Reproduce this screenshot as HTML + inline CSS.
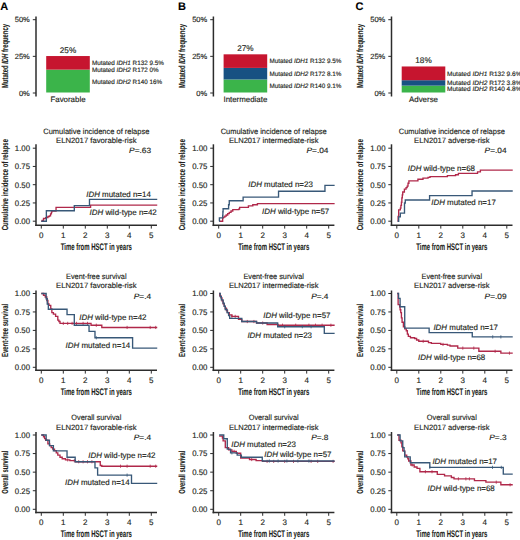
<!DOCTYPE html>
<html><head><meta charset="utf-8"><style>
html,body{margin:0;padding:0;background:#fff;overflow:hidden;}
svg{display:block;font-family:"Liberation Sans", sans-serif;text-rendering:geometricPrecision;}
</style></head><body>
<svg width="520" height="540" viewBox="0 0 520 540">
<rect width="520" height="540" fill="#fff"/>
<text x="0.20" y="9.60" font-size="11" text-anchor="start" font-weight="bold" font-style="normal" fill="#000" stroke="#000" stroke-width="0.1" >A</text>
<text x="178.00" y="9.70" font-size="11" text-anchor="start" font-weight="bold" font-style="normal" fill="#000" stroke="#000" stroke-width="0.1" >B</text>
<text x="355.60" y="9.70" font-size="11" text-anchor="start" font-weight="bold" font-style="normal" fill="#000" stroke="#000" stroke-width="0.1" >C</text>
<line x1="36.00" y1="16.50" x2="36.00" y2="96.50" stroke="#2c2c2c" stroke-width="1.5"/>
<line x1="32.80" y1="19.70" x2="36.00" y2="19.70" stroke="#2c2c2c" stroke-width="1.0"/>
<text x="29.80" y="22.40" font-size="7.5" text-anchor="end" font-weight="normal" font-style="normal" fill="#231f20" stroke="#231f20" stroke-width="0.15" >50%</text>
<line x1="32.80" y1="56.35" x2="36.00" y2="56.35" stroke="#2c2c2c" stroke-width="1.0"/>
<text x="29.80" y="59.05" font-size="7.5" text-anchor="end" font-weight="normal" font-style="normal" fill="#231f20" stroke="#231f20" stroke-width="0.15" >25%</text>
<line x1="32.80" y1="93.00" x2="36.00" y2="93.00" stroke="#2c2c2c" stroke-width="1.0"/>
<text x="29.80" y="95.70" font-size="7.5" text-anchor="end" font-weight="normal" font-style="normal" fill="#231f20" stroke="#231f20" stroke-width="0.15" >0%</text>
<text transform="translate(7.60,56.00) rotate(-90)" x="0" y="0" font-size="8.9" font-weight="bold" text-anchor="middle" fill="#231f20" stroke="#231f20" stroke-width="0.1" textLength="64.00" lengthAdjust="spacingAndGlyphs">Mutated <tspan font-style="italic">IDH</tspan> frequency</text>
<rect x="46.20" y="69.62" width="43.60" height="22.88" fill="#3bb44a"/>
<rect x="46.20" y="56.04" width="43.60" height="13.58" fill="#c6152f"/>
<text x="68.00" y="52.84" font-size="8.2" text-anchor="middle" font-weight="normal" font-style="normal" fill="#231f20" stroke="#231f20" stroke-width="0.15" >25%</text>
<text x="68.00" y="102.00" font-size="7.9" text-anchor="middle" font-weight="normal" font-style="normal" fill="#231f20" stroke="#231f20" stroke-width="0.15" >Favorable</text>
<text x="92.00" y="64.70" font-size="6.3" text-anchor="start" font-weight="normal" font-style="normal" fill="#231f20" stroke="#231f20" stroke-width="0.15" >Mutated <tspan font-style="italic">IDH1</tspan> R132 9.5%</text>
<text x="92.00" y="72.30" font-size="6.3" text-anchor="start" font-weight="normal" font-style="normal" fill="#231f20" stroke="#231f20" stroke-width="0.15" >Mutated <tspan font-style="italic">IDH2</tspan> R172 0%</text>
<text x="92.00" y="83.80" font-size="6.3" text-anchor="start" font-weight="normal" font-style="normal" fill="#231f20" stroke="#231f20" stroke-width="0.15" >Mutated <tspan font-style="italic">IDH2</tspan> R140 16%</text>
<line x1="213.40" y1="16.50" x2="213.40" y2="96.50" stroke="#2c2c2c" stroke-width="1.5"/>
<line x1="210.20" y1="19.70" x2="213.40" y2="19.70" stroke="#2c2c2c" stroke-width="1.0"/>
<text x="207.20" y="22.40" font-size="7.5" text-anchor="end" font-weight="normal" font-style="normal" fill="#231f20" stroke="#231f20" stroke-width="0.15" >50%</text>
<line x1="210.20" y1="56.35" x2="213.40" y2="56.35" stroke="#2c2c2c" stroke-width="1.0"/>
<text x="207.20" y="59.05" font-size="7.5" text-anchor="end" font-weight="normal" font-style="normal" fill="#231f20" stroke="#231f20" stroke-width="0.15" >25%</text>
<line x1="210.20" y1="93.00" x2="213.40" y2="93.00" stroke="#2c2c2c" stroke-width="1.0"/>
<text x="207.20" y="95.70" font-size="7.5" text-anchor="end" font-weight="normal" font-style="normal" fill="#231f20" stroke="#231f20" stroke-width="0.15" >0%</text>
<text transform="translate(185.00,56.00) rotate(-90)" x="0" y="0" font-size="8.9" font-weight="bold" text-anchor="middle" fill="#231f20" stroke="#231f20" stroke-width="0.1" textLength="64.00" lengthAdjust="spacingAndGlyphs">Mutated <tspan font-style="italic">IDH</tspan> frequency</text>
<rect x="223.60" y="79.49" width="43.60" height="13.01" fill="#3bb44a"/>
<rect x="223.60" y="67.90" width="43.60" height="11.58" fill="#175182"/>
<rect x="223.60" y="54.32" width="43.60" height="13.58" fill="#c6152f"/>
<text x="245.40" y="51.12" font-size="8.2" text-anchor="middle" font-weight="normal" font-style="normal" fill="#231f20" stroke="#231f20" stroke-width="0.15" >27%</text>
<text x="245.40" y="102.00" font-size="7.9" text-anchor="middle" font-weight="normal" font-style="normal" fill="#231f20" stroke="#231f20" stroke-width="0.15" >Intermediate</text>
<text x="269.50" y="62.70" font-size="6.3" text-anchor="start" font-weight="normal" font-style="normal" fill="#231f20" stroke="#231f20" stroke-width="0.15" >Mutated <tspan font-style="italic">IDH1</tspan> R132 9.5%</text>
<text x="269.50" y="75.90" font-size="6.3" text-anchor="start" font-weight="normal" font-style="normal" fill="#231f20" stroke="#231f20" stroke-width="0.15" >Mutated <tspan font-style="italic">IDH2</tspan> R172 8.1%</text>
<text x="269.50" y="88.10" font-size="6.3" text-anchor="start" font-weight="normal" font-style="normal" fill="#231f20" stroke="#231f20" stroke-width="0.15" >Mutated <tspan font-style="italic">IDH2</tspan> R140 9.1%</text>
<line x1="391.50" y1="16.50" x2="391.50" y2="96.50" stroke="#2c2c2c" stroke-width="1.5"/>
<line x1="388.30" y1="19.70" x2="391.50" y2="19.70" stroke="#2c2c2c" stroke-width="1.0"/>
<text x="385.30" y="22.40" font-size="7.5" text-anchor="end" font-weight="normal" font-style="normal" fill="#231f20" stroke="#231f20" stroke-width="0.15" >50%</text>
<line x1="388.30" y1="56.35" x2="391.50" y2="56.35" stroke="#2c2c2c" stroke-width="1.0"/>
<text x="385.30" y="59.05" font-size="7.5" text-anchor="end" font-weight="normal" font-style="normal" fill="#231f20" stroke="#231f20" stroke-width="0.15" >25%</text>
<line x1="388.30" y1="93.00" x2="391.50" y2="93.00" stroke="#2c2c2c" stroke-width="1.0"/>
<text x="385.30" y="95.70" font-size="7.5" text-anchor="end" font-weight="normal" font-style="normal" fill="#231f20" stroke="#231f20" stroke-width="0.15" >0%</text>
<text transform="translate(363.10,56.00) rotate(-90)" x="0" y="0" font-size="8.9" font-weight="bold" text-anchor="middle" fill="#231f20" stroke="#231f20" stroke-width="0.1" textLength="64.00" lengthAdjust="spacingAndGlyphs">Mutated <tspan font-style="italic">IDH</tspan> frequency</text>
<rect x="401.70" y="85.64" width="43.60" height="6.86" fill="#3bb44a"/>
<rect x="401.70" y="80.20" width="43.60" height="5.43" fill="#175182"/>
<rect x="401.70" y="66.47" width="43.60" height="13.73" fill="#c6152f"/>
<text x="423.50" y="63.27" font-size="8.2" text-anchor="middle" font-weight="normal" font-style="normal" fill="#231f20" stroke="#231f20" stroke-width="0.15" >18%</text>
<text x="423.50" y="102.00" font-size="7.9" text-anchor="middle" font-weight="normal" font-style="normal" fill="#231f20" stroke="#231f20" stroke-width="0.15" >Adverse</text>
<text x="447.00" y="75.70" font-size="6.3" text-anchor="start" font-weight="normal" font-style="normal" fill="#231f20" stroke="#231f20" stroke-width="0.15" textLength="74.50" lengthAdjust="spacingAndGlyphs" >Mutated <tspan font-style="italic">IDH1</tspan> R132 9.6%</text>
<text x="447.00" y="85.20" font-size="6.3" text-anchor="start" font-weight="normal" font-style="normal" fill="#231f20" stroke="#231f20" stroke-width="0.15" textLength="74.50" lengthAdjust="spacingAndGlyphs" >Mutated <tspan font-style="italic">IDH2</tspan> R172 3.8%</text>
<text x="447.00" y="90.70" font-size="6.3" text-anchor="start" font-weight="normal" font-style="normal" fill="#231f20" stroke="#231f20" stroke-width="0.15" textLength="74.50" lengthAdjust="spacingAndGlyphs" >Mutated <tspan font-style="italic">IDH2</tspan> R140 4.8%</text>
<line x1="36.00" y1="144.30" x2="36.00" y2="226.05" stroke="#2c2c2c" stroke-width="1.5"/>
<line x1="32.80" y1="148.20" x2="36.00" y2="148.20" stroke="#2c2c2c" stroke-width="1.0"/>
<text x="30.00" y="151.10" font-size="8.0" text-anchor="end" font-weight="normal" font-style="normal" fill="#231f20" stroke="#231f20" stroke-width="0.15" textLength="15.20" lengthAdjust="spacingAndGlyphs" >1.00</text>
<line x1="32.80" y1="166.45" x2="36.00" y2="166.45" stroke="#2c2c2c" stroke-width="1.0"/>
<text x="30.00" y="169.35" font-size="8.0" text-anchor="end" font-weight="normal" font-style="normal" fill="#231f20" stroke="#231f20" stroke-width="0.15" textLength="15.20" lengthAdjust="spacingAndGlyphs" >0.75</text>
<line x1="32.80" y1="184.70" x2="36.00" y2="184.70" stroke="#2c2c2c" stroke-width="1.0"/>
<text x="30.00" y="187.60" font-size="8.0" text-anchor="end" font-weight="normal" font-style="normal" fill="#231f20" stroke="#231f20" stroke-width="0.15" textLength="15.20" lengthAdjust="spacingAndGlyphs" >0.50</text>
<line x1="32.80" y1="202.95" x2="36.00" y2="202.95" stroke="#2c2c2c" stroke-width="1.0"/>
<text x="30.00" y="205.85" font-size="8.0" text-anchor="end" font-weight="normal" font-style="normal" fill="#231f20" stroke="#231f20" stroke-width="0.15" textLength="15.20" lengthAdjust="spacingAndGlyphs" >0.25</text>
<line x1="32.80" y1="221.20" x2="36.00" y2="221.20" stroke="#2c2c2c" stroke-width="1.0"/>
<text x="30.00" y="224.10" font-size="8.0" text-anchor="end" font-weight="normal" font-style="normal" fill="#231f20" stroke="#231f20" stroke-width="0.15" textLength="15.20" lengthAdjust="spacingAndGlyphs" >0.00</text>
<line x1="35.20" y1="225.30" x2="157.00" y2="225.30" stroke="#2c2c2c" stroke-width="1.5"/>
<line x1="41.30" y1="225.30" x2="41.30" y2="228.60" stroke="#2c2c2c" stroke-width="1.0"/>
<text x="41.30" y="237.70" font-size="8.0" text-anchor="middle" font-weight="normal" font-style="normal" fill="#231f20" stroke="#231f20" stroke-width="0.15" >0</text>
<line x1="63.30" y1="225.30" x2="63.30" y2="228.60" stroke="#2c2c2c" stroke-width="1.0"/>
<text x="63.30" y="237.70" font-size="8.0" text-anchor="middle" font-weight="normal" font-style="normal" fill="#231f20" stroke="#231f20" stroke-width="0.15" >1</text>
<line x1="85.30" y1="225.30" x2="85.30" y2="228.60" stroke="#2c2c2c" stroke-width="1.0"/>
<text x="85.30" y="237.70" font-size="8.0" text-anchor="middle" font-weight="normal" font-style="normal" fill="#231f20" stroke="#231f20" stroke-width="0.15" >2</text>
<line x1="107.30" y1="225.30" x2="107.30" y2="228.60" stroke="#2c2c2c" stroke-width="1.0"/>
<text x="107.30" y="237.70" font-size="8.0" text-anchor="middle" font-weight="normal" font-style="normal" fill="#231f20" stroke="#231f20" stroke-width="0.15" >3</text>
<line x1="129.30" y1="225.30" x2="129.30" y2="228.60" stroke="#2c2c2c" stroke-width="1.0"/>
<text x="129.30" y="237.70" font-size="8.0" text-anchor="middle" font-weight="normal" font-style="normal" fill="#231f20" stroke="#231f20" stroke-width="0.15" >4</text>
<line x1="151.30" y1="225.30" x2="151.30" y2="228.60" stroke="#2c2c2c" stroke-width="1.0"/>
<text x="151.30" y="237.70" font-size="8.0" text-anchor="middle" font-weight="normal" font-style="normal" fill="#231f20" stroke="#231f20" stroke-width="0.15" >5</text>
<text x="96.30" y="249.70" font-size="9.6" text-anchor="middle" font-weight="bold" font-style="normal" fill="#231f20" stroke="#231f20" stroke-width="0.1" textLength="71.10" lengthAdjust="spacingAndGlyphs" >Time from HSCT in years</text>
<text transform="translate(7.60,184.70) rotate(-90)" x="0" y="0" font-size="8.9" font-weight="bold" text-anchor="middle" fill="#231f20" stroke="#231f20" stroke-width="0.1" textLength="91.30" lengthAdjust="spacingAndGlyphs">Cumulative incidence of relapse</text>
<text x="96.30" y="133.60" font-size="7.7" text-anchor="middle" font-weight="normal" font-style="normal" fill="#231f20" stroke="#231f20" stroke-width="0.15" textLength="106.10" lengthAdjust="spacingAndGlyphs" >Cumulative incidence of relapse</text>
<text x="96.30" y="142.70" font-size="7.7" text-anchor="middle" font-weight="normal" font-style="normal" fill="#231f20" stroke="#231f20" stroke-width="0.15" textLength="80.40" lengthAdjust="spacingAndGlyphs" >ELN2017 favorable-risk</text>
<text x="151.10" y="153.20" font-size="7.7" text-anchor="end" font-weight="normal" font-style="normal" fill="#231f20" stroke="#231f20" stroke-width="0.15" textLength="21.96" lengthAdjust="spacingAndGlyphs" ><tspan font-style="italic">P</tspan>=.63</text>
<path d="M41.30,221.20H42.18V220.32H43.50V218.50H45.70V217.55H47.90V216.53H49.44V215.80H50.54V213.90H51.42V212.07H51.86V211.13H56.04V207.33H90.58V205.14H157.24" fill="none" stroke="#b0284a" stroke-width="1.35"/>
<path d="M41.30,221.20H46.36V210.76H74.30V205.58H89.48V199.30H157.24" fill="none" stroke="#385878" stroke-width="1.35"/>
<text x="86.20" y="197.05" font-size="7.95" text-anchor="start" font-weight="normal" font-style="normal" fill="#231f20" stroke="#231f20" stroke-width="0.15" ><tspan font-style="italic">IDH</tspan> mutated n=14</text>
<text x="89.50" y="215.25" font-size="7.95" text-anchor="start" font-weight="normal" font-style="normal" fill="#231f20" stroke="#231f20" stroke-width="0.15" ><tspan font-style="italic">IDH</tspan> wild-type n=42</text>
<line x1="213.40" y1="144.30" x2="213.40" y2="226.05" stroke="#2c2c2c" stroke-width="1.5"/>
<line x1="210.20" y1="148.20" x2="213.40" y2="148.20" stroke="#2c2c2c" stroke-width="1.0"/>
<text x="207.40" y="151.10" font-size="8.0" text-anchor="end" font-weight="normal" font-style="normal" fill="#231f20" stroke="#231f20" stroke-width="0.15" textLength="15.20" lengthAdjust="spacingAndGlyphs" >1.00</text>
<line x1="210.20" y1="166.45" x2="213.40" y2="166.45" stroke="#2c2c2c" stroke-width="1.0"/>
<text x="207.40" y="169.35" font-size="8.0" text-anchor="end" font-weight="normal" font-style="normal" fill="#231f20" stroke="#231f20" stroke-width="0.15" textLength="15.20" lengthAdjust="spacingAndGlyphs" >0.75</text>
<line x1="210.20" y1="184.70" x2="213.40" y2="184.70" stroke="#2c2c2c" stroke-width="1.0"/>
<text x="207.40" y="187.60" font-size="8.0" text-anchor="end" font-weight="normal" font-style="normal" fill="#231f20" stroke="#231f20" stroke-width="0.15" textLength="15.20" lengthAdjust="spacingAndGlyphs" >0.50</text>
<line x1="210.20" y1="202.95" x2="213.40" y2="202.95" stroke="#2c2c2c" stroke-width="1.0"/>
<text x="207.40" y="205.85" font-size="8.0" text-anchor="end" font-weight="normal" font-style="normal" fill="#231f20" stroke="#231f20" stroke-width="0.15" textLength="15.20" lengthAdjust="spacingAndGlyphs" >0.25</text>
<line x1="210.20" y1="221.20" x2="213.40" y2="221.20" stroke="#2c2c2c" stroke-width="1.0"/>
<text x="207.40" y="224.10" font-size="8.0" text-anchor="end" font-weight="normal" font-style="normal" fill="#231f20" stroke="#231f20" stroke-width="0.15" textLength="15.20" lengthAdjust="spacingAndGlyphs" >0.00</text>
<line x1="212.60" y1="225.30" x2="334.40" y2="225.30" stroke="#2c2c2c" stroke-width="1.5"/>
<line x1="218.70" y1="225.30" x2="218.70" y2="228.60" stroke="#2c2c2c" stroke-width="1.0"/>
<text x="218.70" y="237.70" font-size="8.0" text-anchor="middle" font-weight="normal" font-style="normal" fill="#231f20" stroke="#231f20" stroke-width="0.15" >0</text>
<line x1="240.70" y1="225.30" x2="240.70" y2="228.60" stroke="#2c2c2c" stroke-width="1.0"/>
<text x="240.70" y="237.70" font-size="8.0" text-anchor="middle" font-weight="normal" font-style="normal" fill="#231f20" stroke="#231f20" stroke-width="0.15" >1</text>
<line x1="262.70" y1="225.30" x2="262.70" y2="228.60" stroke="#2c2c2c" stroke-width="1.0"/>
<text x="262.70" y="237.70" font-size="8.0" text-anchor="middle" font-weight="normal" font-style="normal" fill="#231f20" stroke="#231f20" stroke-width="0.15" >2</text>
<line x1="284.70" y1="225.30" x2="284.70" y2="228.60" stroke="#2c2c2c" stroke-width="1.0"/>
<text x="284.70" y="237.70" font-size="8.0" text-anchor="middle" font-weight="normal" font-style="normal" fill="#231f20" stroke="#231f20" stroke-width="0.15" >3</text>
<line x1="306.70" y1="225.30" x2="306.70" y2="228.60" stroke="#2c2c2c" stroke-width="1.0"/>
<text x="306.70" y="237.70" font-size="8.0" text-anchor="middle" font-weight="normal" font-style="normal" fill="#231f20" stroke="#231f20" stroke-width="0.15" >4</text>
<line x1="328.70" y1="225.30" x2="328.70" y2="228.60" stroke="#2c2c2c" stroke-width="1.0"/>
<text x="328.70" y="237.70" font-size="8.0" text-anchor="middle" font-weight="normal" font-style="normal" fill="#231f20" stroke="#231f20" stroke-width="0.15" >5</text>
<text x="273.70" y="249.70" font-size="9.6" text-anchor="middle" font-weight="bold" font-style="normal" fill="#231f20" stroke="#231f20" stroke-width="0.1" textLength="71.10" lengthAdjust="spacingAndGlyphs" >Time from HSCT in years</text>
<text transform="translate(185.00,184.70) rotate(-90)" x="0" y="0" font-size="8.9" font-weight="bold" text-anchor="middle" fill="#231f20" stroke="#231f20" stroke-width="0.1" textLength="91.30" lengthAdjust="spacingAndGlyphs">Cumulative incidence of relapse</text>
<text x="273.70" y="133.60" font-size="7.7" text-anchor="middle" font-weight="normal" font-style="normal" fill="#231f20" stroke="#231f20" stroke-width="0.15" textLength="106.10" lengthAdjust="spacingAndGlyphs" >Cumulative incidence of relapse</text>
<text x="273.70" y="142.70" font-size="7.7" text-anchor="middle" font-weight="normal" font-style="normal" fill="#231f20" stroke="#231f20" stroke-width="0.15" textLength="89.50" lengthAdjust="spacingAndGlyphs" >ELN2017 intermediate-risk</text>
<text x="328.50" y="153.20" font-size="7.7" text-anchor="end" font-weight="normal" font-style="normal" fill="#231f20" stroke="#231f20" stroke-width="0.15" textLength="21.96" lengthAdjust="spacingAndGlyphs" ><tspan font-style="italic">P</tspan>=.04</text>
<path d="M219.36,221.20H222.66V217.91H223.54V217.19H224.86V216.09H226.18V214.99H227.72V213.61H229.26V212.44H231.02V210.98H232.78V209.67H238.72V209.08H239.60V207.33H248.40V205.87H252.80V204.77H257.42V203.68H334.64" fill="none" stroke="#b0284a" stroke-width="1.35"/>
<path d="M219.36,221.20H219.40V217.91H222.66V215.36H222.88V211.71H223.10V208.79H228.60V204.70H229.26V200.76H243.12V197.11H278.54V191.27H324.96V185.43H334.64" fill="none" stroke="#385878" stroke-width="1.35"/>
<text x="248.20" y="186.85" font-size="7.95" text-anchor="start" font-weight="normal" font-style="normal" fill="#231f20" stroke="#231f20" stroke-width="0.15" ><tspan font-style="italic">IDH</tspan> mutated n=23</text>
<text x="262.00" y="214.35" font-size="7.95" text-anchor="start" font-weight="normal" font-style="normal" fill="#231f20" stroke="#231f20" stroke-width="0.15" ><tspan font-style="italic">IDH</tspan> wild-type n=57</text>
<line x1="391.50" y1="144.30" x2="391.50" y2="226.05" stroke="#2c2c2c" stroke-width="1.5"/>
<line x1="388.30" y1="148.20" x2="391.50" y2="148.20" stroke="#2c2c2c" stroke-width="1.0"/>
<text x="385.50" y="151.10" font-size="8.0" text-anchor="end" font-weight="normal" font-style="normal" fill="#231f20" stroke="#231f20" stroke-width="0.15" textLength="15.20" lengthAdjust="spacingAndGlyphs" >1.00</text>
<line x1="388.30" y1="166.45" x2="391.50" y2="166.45" stroke="#2c2c2c" stroke-width="1.0"/>
<text x="385.50" y="169.35" font-size="8.0" text-anchor="end" font-weight="normal" font-style="normal" fill="#231f20" stroke="#231f20" stroke-width="0.15" textLength="15.20" lengthAdjust="spacingAndGlyphs" >0.75</text>
<line x1="388.30" y1="184.70" x2="391.50" y2="184.70" stroke="#2c2c2c" stroke-width="1.0"/>
<text x="385.50" y="187.60" font-size="8.0" text-anchor="end" font-weight="normal" font-style="normal" fill="#231f20" stroke="#231f20" stroke-width="0.15" textLength="15.20" lengthAdjust="spacingAndGlyphs" >0.50</text>
<line x1="388.30" y1="202.95" x2="391.50" y2="202.95" stroke="#2c2c2c" stroke-width="1.0"/>
<text x="385.50" y="205.85" font-size="8.0" text-anchor="end" font-weight="normal" font-style="normal" fill="#231f20" stroke="#231f20" stroke-width="0.15" textLength="15.20" lengthAdjust="spacingAndGlyphs" >0.25</text>
<line x1="388.30" y1="221.20" x2="391.50" y2="221.20" stroke="#2c2c2c" stroke-width="1.0"/>
<text x="385.50" y="224.10" font-size="8.0" text-anchor="end" font-weight="normal" font-style="normal" fill="#231f20" stroke="#231f20" stroke-width="0.15" textLength="15.20" lengthAdjust="spacingAndGlyphs" >0.00</text>
<line x1="390.70" y1="225.30" x2="512.50" y2="225.30" stroke="#2c2c2c" stroke-width="1.5"/>
<line x1="396.80" y1="225.30" x2="396.80" y2="228.60" stroke="#2c2c2c" stroke-width="1.0"/>
<text x="396.80" y="237.70" font-size="8.0" text-anchor="middle" font-weight="normal" font-style="normal" fill="#231f20" stroke="#231f20" stroke-width="0.15" >0</text>
<line x1="418.80" y1="225.30" x2="418.80" y2="228.60" stroke="#2c2c2c" stroke-width="1.0"/>
<text x="418.80" y="237.70" font-size="8.0" text-anchor="middle" font-weight="normal" font-style="normal" fill="#231f20" stroke="#231f20" stroke-width="0.15" >1</text>
<line x1="440.80" y1="225.30" x2="440.80" y2="228.60" stroke="#2c2c2c" stroke-width="1.0"/>
<text x="440.80" y="237.70" font-size="8.0" text-anchor="middle" font-weight="normal" font-style="normal" fill="#231f20" stroke="#231f20" stroke-width="0.15" >2</text>
<line x1="462.80" y1="225.30" x2="462.80" y2="228.60" stroke="#2c2c2c" stroke-width="1.0"/>
<text x="462.80" y="237.70" font-size="8.0" text-anchor="middle" font-weight="normal" font-style="normal" fill="#231f20" stroke="#231f20" stroke-width="0.15" >3</text>
<line x1="484.80" y1="225.30" x2="484.80" y2="228.60" stroke="#2c2c2c" stroke-width="1.0"/>
<text x="484.80" y="237.70" font-size="8.0" text-anchor="middle" font-weight="normal" font-style="normal" fill="#231f20" stroke="#231f20" stroke-width="0.15" >4</text>
<line x1="506.80" y1="225.30" x2="506.80" y2="228.60" stroke="#2c2c2c" stroke-width="1.0"/>
<text x="506.80" y="237.70" font-size="8.0" text-anchor="middle" font-weight="normal" font-style="normal" fill="#231f20" stroke="#231f20" stroke-width="0.15" >5</text>
<text x="451.80" y="249.70" font-size="9.6" text-anchor="middle" font-weight="bold" font-style="normal" fill="#231f20" stroke="#231f20" stroke-width="0.1" textLength="71.10" lengthAdjust="spacingAndGlyphs" >Time from HSCT in years</text>
<text transform="translate(363.10,184.70) rotate(-90)" x="0" y="0" font-size="8.9" font-weight="bold" text-anchor="middle" fill="#231f20" stroke="#231f20" stroke-width="0.1" textLength="91.30" lengthAdjust="spacingAndGlyphs">Cumulative incidence of relapse</text>
<text x="451.80" y="133.60" font-size="7.7" text-anchor="middle" font-weight="normal" font-style="normal" fill="#231f20" stroke="#231f20" stroke-width="0.15" textLength="106.10" lengthAdjust="spacingAndGlyphs" >Cumulative incidence of relapse</text>
<text x="451.80" y="142.70" font-size="7.7" text-anchor="middle" font-weight="normal" font-style="normal" fill="#231f20" stroke="#231f20" stroke-width="0.15" textLength="75.40" lengthAdjust="spacingAndGlyphs" >ELN2017 adverse-risk</text>
<text x="506.60" y="153.20" font-size="7.7" text-anchor="end" font-weight="normal" font-style="normal" fill="#231f20" stroke="#231f20" stroke-width="0.15" textLength="21.96" lengthAdjust="spacingAndGlyphs" ><tspan font-style="italic">P</tspan>=.04</text>
<path d="M397.68,221.20H398.12V216.38H398.69V209.88H400.32V208.06H400.89V205.36H401.42V202.22H401.86V197.84H402.30V194.92H402.74V192.00H404.39V189.08H406.04V187.62H407.14V186.16H408.02V183.24H408.90V180.83H417.92V179.22H422.98V178.13H428.04V177.40H430.02V176.67H447.40V175.57H455.54V174.70H458.40V173.38H477.54V171.92H480.40V170.10H512.74" fill="none" stroke="#b0284a" stroke-width="1.35"/>
<path d="M397.68,221.20H398.69V216.82H400.32V213.17H404.50V202.95H405.29V200.03H429.58V195.65H472.04V190.98H512.74" fill="none" stroke="#385878" stroke-width="1.35"/>
<text x="407.70" y="171.35" font-size="7.95" text-anchor="start" font-weight="normal" font-style="normal" fill="#231f20" stroke="#231f20" stroke-width="0.15" ><tspan font-style="italic">IDH</tspan> wild-type n=68</text>
<text x="431.20" y="204.85" font-size="7.95" text-anchor="start" font-weight="normal" font-style="normal" fill="#231f20" stroke="#231f20" stroke-width="0.15" ><tspan font-style="italic">IDH</tspan> mutated n=17</text>
<line x1="36.00" y1="290.50" x2="36.00" y2="371.05" stroke="#2c2c2c" stroke-width="1.5"/>
<line x1="32.80" y1="293.50" x2="36.00" y2="293.50" stroke="#2c2c2c" stroke-width="1.0"/>
<text x="30.00" y="296.40" font-size="8.0" text-anchor="end" font-weight="normal" font-style="normal" fill="#231f20" stroke="#231f20" stroke-width="0.15" textLength="15.20" lengthAdjust="spacingAndGlyphs" >1.00</text>
<line x1="32.80" y1="311.95" x2="36.00" y2="311.95" stroke="#2c2c2c" stroke-width="1.0"/>
<text x="30.00" y="314.85" font-size="8.0" text-anchor="end" font-weight="normal" font-style="normal" fill="#231f20" stroke="#231f20" stroke-width="0.15" textLength="15.20" lengthAdjust="spacingAndGlyphs" >0.75</text>
<line x1="32.80" y1="330.40" x2="36.00" y2="330.40" stroke="#2c2c2c" stroke-width="1.0"/>
<text x="30.00" y="333.30" font-size="8.0" text-anchor="end" font-weight="normal" font-style="normal" fill="#231f20" stroke="#231f20" stroke-width="0.15" textLength="15.20" lengthAdjust="spacingAndGlyphs" >0.50</text>
<line x1="32.80" y1="348.85" x2="36.00" y2="348.85" stroke="#2c2c2c" stroke-width="1.0"/>
<text x="30.00" y="351.75" font-size="8.0" text-anchor="end" font-weight="normal" font-style="normal" fill="#231f20" stroke="#231f20" stroke-width="0.15" textLength="15.20" lengthAdjust="spacingAndGlyphs" >0.25</text>
<line x1="32.80" y1="367.30" x2="36.00" y2="367.30" stroke="#2c2c2c" stroke-width="1.0"/>
<text x="30.00" y="370.20" font-size="8.0" text-anchor="end" font-weight="normal" font-style="normal" fill="#231f20" stroke="#231f20" stroke-width="0.15" textLength="15.20" lengthAdjust="spacingAndGlyphs" >0.00</text>
<line x1="35.20" y1="370.30" x2="157.00" y2="370.30" stroke="#2c2c2c" stroke-width="1.5"/>
<line x1="41.30" y1="370.30" x2="41.30" y2="373.60" stroke="#2c2c2c" stroke-width="1.0"/>
<text x="41.30" y="382.50" font-size="8.0" text-anchor="middle" font-weight="normal" font-style="normal" fill="#231f20" stroke="#231f20" stroke-width="0.15" >0</text>
<line x1="63.30" y1="370.30" x2="63.30" y2="373.60" stroke="#2c2c2c" stroke-width="1.0"/>
<text x="63.30" y="382.50" font-size="8.0" text-anchor="middle" font-weight="normal" font-style="normal" fill="#231f20" stroke="#231f20" stroke-width="0.15" >1</text>
<line x1="85.30" y1="370.30" x2="85.30" y2="373.60" stroke="#2c2c2c" stroke-width="1.0"/>
<text x="85.30" y="382.50" font-size="8.0" text-anchor="middle" font-weight="normal" font-style="normal" fill="#231f20" stroke="#231f20" stroke-width="0.15" >2</text>
<line x1="107.30" y1="370.30" x2="107.30" y2="373.60" stroke="#2c2c2c" stroke-width="1.0"/>
<text x="107.30" y="382.50" font-size="8.0" text-anchor="middle" font-weight="normal" font-style="normal" fill="#231f20" stroke="#231f20" stroke-width="0.15" >3</text>
<line x1="129.30" y1="370.30" x2="129.30" y2="373.60" stroke="#2c2c2c" stroke-width="1.0"/>
<text x="129.30" y="382.50" font-size="8.0" text-anchor="middle" font-weight="normal" font-style="normal" fill="#231f20" stroke="#231f20" stroke-width="0.15" >4</text>
<line x1="151.30" y1="370.30" x2="151.30" y2="373.60" stroke="#2c2c2c" stroke-width="1.0"/>
<text x="151.30" y="382.50" font-size="8.0" text-anchor="middle" font-weight="normal" font-style="normal" fill="#231f20" stroke="#231f20" stroke-width="0.15" >5</text>
<text x="96.30" y="394.60" font-size="9.6" text-anchor="middle" font-weight="bold" font-style="normal" fill="#231f20" stroke="#231f20" stroke-width="0.1" textLength="71.10" lengthAdjust="spacingAndGlyphs" >Time from HSCT in years</text>
<text transform="translate(7.60,330.40) rotate(-90)" x="0" y="0" font-size="8.9" font-weight="bold" text-anchor="middle" fill="#231f20" stroke="#231f20" stroke-width="0.1" textLength="53.30" lengthAdjust="spacingAndGlyphs">Event-free survival</text>
<text x="96.30" y="279.00" font-size="7.7" text-anchor="middle" font-weight="normal" font-style="normal" fill="#231f20" stroke="#231f20" stroke-width="0.15" textLength="60.50" lengthAdjust="spacingAndGlyphs" >Event-free survival</text>
<text x="96.30" y="287.80" font-size="7.7" text-anchor="middle" font-weight="normal" font-style="normal" fill="#231f20" stroke="#231f20" stroke-width="0.15" textLength="80.40" lengthAdjust="spacingAndGlyphs" >ELN2017 favorable-risk</text>
<text x="151.10" y="299.00" font-size="7.7" text-anchor="end" font-weight="normal" font-style="normal" fill="#231f20" stroke="#231f20" stroke-width="0.15" textLength="17.33" lengthAdjust="spacingAndGlyphs" ><tspan font-style="italic">P</tspan>=.4</text>
<path d="M41.30,293.50H43.50V295.27H45.26V297.04H46.80V300.51H47.90V303.83H49.00V305.31H50.76V309.00H51.86V312.69H53.40V314.16H55.60V316.38H57.80V320.07H58.90V321.54H60.00V323.39H91.02V325.23H101.80V327.45H157.24" fill="none" stroke="#b0284a" stroke-width="1.35"/>
<line x1="63.30" y1="321.79" x2="63.30" y2="324.99" stroke="#b0284a" stroke-width="0.8"/>
<line x1="67.70" y1="321.79" x2="67.70" y2="324.99" stroke="#b0284a" stroke-width="0.8"/>
<line x1="72.10" y1="321.79" x2="72.10" y2="324.99" stroke="#b0284a" stroke-width="0.8"/>
<line x1="74.30" y1="321.79" x2="74.30" y2="324.99" stroke="#b0284a" stroke-width="0.8"/>
<line x1="76.50" y1="321.79" x2="76.50" y2="324.99" stroke="#b0284a" stroke-width="0.8"/>
<line x1="83.10" y1="321.79" x2="83.10" y2="324.99" stroke="#b0284a" stroke-width="0.8"/>
<line x1="87.50" y1="321.79" x2="87.50" y2="324.99" stroke="#b0284a" stroke-width="0.8"/>
<line x1="96.30" y1="323.63" x2="96.30" y2="326.83" stroke="#b0284a" stroke-width="0.8"/>
<line x1="127.10" y1="325.85" x2="127.10" y2="329.05" stroke="#b0284a" stroke-width="0.8"/>
<line x1="150.20" y1="325.85" x2="150.20" y2="329.05" stroke="#b0284a" stroke-width="0.8"/>
<line x1="155.70" y1="325.85" x2="155.70" y2="329.05" stroke="#b0284a" stroke-width="0.8"/>
<path d="M41.30,293.50H46.14V298.74H47.24V304.05H48.34V309.29H67.04V314.61H74.30V325.23H89.04V331.43H94.98V337.78H132.60V348.11H157.24" fill="none" stroke="#385878" stroke-width="1.35"/>
<line x1="96.30" y1="336.18" x2="96.30" y2="339.38" stroke="#385878" stroke-width="0.8"/>
<text x="79.20" y="320.05" font-size="7.95" text-anchor="start" font-weight="normal" font-style="normal" fill="#231f20" stroke="#231f20" stroke-width="0.15" ><tspan font-style="italic">IDH</tspan> wild-type n=42</text>
<text x="65.60" y="347.65" font-size="7.95" text-anchor="start" font-weight="normal" font-style="normal" fill="#231f20" stroke="#231f20" stroke-width="0.15" ><tspan font-style="italic">IDH</tspan> mutated n=14</text>
<line x1="213.40" y1="290.50" x2="213.40" y2="371.05" stroke="#2c2c2c" stroke-width="1.5"/>
<line x1="210.20" y1="293.50" x2="213.40" y2="293.50" stroke="#2c2c2c" stroke-width="1.0"/>
<text x="207.40" y="296.40" font-size="8.0" text-anchor="end" font-weight="normal" font-style="normal" fill="#231f20" stroke="#231f20" stroke-width="0.15" textLength="15.20" lengthAdjust="spacingAndGlyphs" >1.00</text>
<line x1="210.20" y1="311.95" x2="213.40" y2="311.95" stroke="#2c2c2c" stroke-width="1.0"/>
<text x="207.40" y="314.85" font-size="8.0" text-anchor="end" font-weight="normal" font-style="normal" fill="#231f20" stroke="#231f20" stroke-width="0.15" textLength="15.20" lengthAdjust="spacingAndGlyphs" >0.75</text>
<line x1="210.20" y1="330.40" x2="213.40" y2="330.40" stroke="#2c2c2c" stroke-width="1.0"/>
<text x="207.40" y="333.30" font-size="8.0" text-anchor="end" font-weight="normal" font-style="normal" fill="#231f20" stroke="#231f20" stroke-width="0.15" textLength="15.20" lengthAdjust="spacingAndGlyphs" >0.50</text>
<line x1="210.20" y1="348.85" x2="213.40" y2="348.85" stroke="#2c2c2c" stroke-width="1.0"/>
<text x="207.40" y="351.75" font-size="8.0" text-anchor="end" font-weight="normal" font-style="normal" fill="#231f20" stroke="#231f20" stroke-width="0.15" textLength="15.20" lengthAdjust="spacingAndGlyphs" >0.25</text>
<line x1="210.20" y1="367.30" x2="213.40" y2="367.30" stroke="#2c2c2c" stroke-width="1.0"/>
<text x="207.40" y="370.20" font-size="8.0" text-anchor="end" font-weight="normal" font-style="normal" fill="#231f20" stroke="#231f20" stroke-width="0.15" textLength="15.20" lengthAdjust="spacingAndGlyphs" >0.00</text>
<line x1="212.60" y1="370.30" x2="334.40" y2="370.30" stroke="#2c2c2c" stroke-width="1.5"/>
<line x1="218.70" y1="370.30" x2="218.70" y2="373.60" stroke="#2c2c2c" stroke-width="1.0"/>
<text x="218.70" y="382.50" font-size="8.0" text-anchor="middle" font-weight="normal" font-style="normal" fill="#231f20" stroke="#231f20" stroke-width="0.15" >0</text>
<line x1="240.70" y1="370.30" x2="240.70" y2="373.60" stroke="#2c2c2c" stroke-width="1.0"/>
<text x="240.70" y="382.50" font-size="8.0" text-anchor="middle" font-weight="normal" font-style="normal" fill="#231f20" stroke="#231f20" stroke-width="0.15" >1</text>
<line x1="262.70" y1="370.30" x2="262.70" y2="373.60" stroke="#2c2c2c" stroke-width="1.0"/>
<text x="262.70" y="382.50" font-size="8.0" text-anchor="middle" font-weight="normal" font-style="normal" fill="#231f20" stroke="#231f20" stroke-width="0.15" >2</text>
<line x1="284.70" y1="370.30" x2="284.70" y2="373.60" stroke="#2c2c2c" stroke-width="1.0"/>
<text x="284.70" y="382.50" font-size="8.0" text-anchor="middle" font-weight="normal" font-style="normal" fill="#231f20" stroke="#231f20" stroke-width="0.15" >3</text>
<line x1="306.70" y1="370.30" x2="306.70" y2="373.60" stroke="#2c2c2c" stroke-width="1.0"/>
<text x="306.70" y="382.50" font-size="8.0" text-anchor="middle" font-weight="normal" font-style="normal" fill="#231f20" stroke="#231f20" stroke-width="0.15" >4</text>
<line x1="328.70" y1="370.30" x2="328.70" y2="373.60" stroke="#2c2c2c" stroke-width="1.0"/>
<text x="328.70" y="382.50" font-size="8.0" text-anchor="middle" font-weight="normal" font-style="normal" fill="#231f20" stroke="#231f20" stroke-width="0.15" >5</text>
<text x="273.70" y="394.60" font-size="9.6" text-anchor="middle" font-weight="bold" font-style="normal" fill="#231f20" stroke="#231f20" stroke-width="0.1" textLength="71.10" lengthAdjust="spacingAndGlyphs" >Time from HSCT in years</text>
<text transform="translate(185.00,330.40) rotate(-90)" x="0" y="0" font-size="8.9" font-weight="bold" text-anchor="middle" fill="#231f20" stroke="#231f20" stroke-width="0.1" textLength="53.30" lengthAdjust="spacingAndGlyphs">Event-free survival</text>
<text x="273.70" y="279.00" font-size="7.7" text-anchor="middle" font-weight="normal" font-style="normal" fill="#231f20" stroke="#231f20" stroke-width="0.15" textLength="60.50" lengthAdjust="spacingAndGlyphs" >Event-free survival</text>
<text x="273.70" y="287.80" font-size="7.7" text-anchor="middle" font-weight="normal" font-style="normal" fill="#231f20" stroke="#231f20" stroke-width="0.15" textLength="89.50" lengthAdjust="spacingAndGlyphs" >ELN2017 intermediate-risk</text>
<text x="328.50" y="299.00" font-size="7.7" text-anchor="end" font-weight="normal" font-style="normal" fill="#231f20" stroke="#231f20" stroke-width="0.15" textLength="17.33" lengthAdjust="spacingAndGlyphs" ><tspan font-style="italic">P</tspan>=.4</text>
<path d="M219.14,293.50H219.80V295.71H220.90V297.93H222.00V300.88H223.10V303.83H224.20V306.05H225.30V308.26H226.40V310.47H227.50V312.69H229.26V314.90H231.90V316.38H238.50V319.33H241.80V321.54H256.54V323.02H267.10V324.50H278.10V325.23H334.64" fill="none" stroke="#b0284a" stroke-width="1.35"/>
<line x1="225.30" y1="306.66" x2="225.30" y2="309.86" stroke="#b0284a" stroke-width="0.8"/>
<line x1="231.90" y1="314.78" x2="231.90" y2="317.98" stroke="#b0284a" stroke-width="0.8"/>
<line x1="235.20" y1="314.78" x2="235.20" y2="317.98" stroke="#b0284a" stroke-width="0.8"/>
<line x1="247.30" y1="319.94" x2="247.30" y2="323.14" stroke="#b0284a" stroke-width="0.8"/>
<line x1="253.90" y1="319.94" x2="253.90" y2="323.14" stroke="#b0284a" stroke-width="0.8"/>
<line x1="262.70" y1="321.42" x2="262.70" y2="324.62" stroke="#b0284a" stroke-width="0.8"/>
<line x1="282.50" y1="323.63" x2="282.50" y2="326.83" stroke="#b0284a" stroke-width="0.8"/>
<line x1="295.70" y1="323.63" x2="295.70" y2="326.83" stroke="#b0284a" stroke-width="0.8"/>
<line x1="308.90" y1="323.63" x2="308.90" y2="326.83" stroke="#b0284a" stroke-width="0.8"/>
<line x1="315.50" y1="323.63" x2="315.50" y2="326.83" stroke="#b0284a" stroke-width="0.8"/>
<line x1="322.10" y1="323.63" x2="322.10" y2="326.83" stroke="#b0284a" stroke-width="0.8"/>
<line x1="330.90" y1="323.63" x2="330.90" y2="326.83" stroke="#b0284a" stroke-width="0.8"/>
<path d="M219.14,293.50H220.24V296.67H221.34V299.92H223.10V303.09H224.20V306.34H225.30V309.51H227.06V312.69H228.60V315.64H229.70V318.30H241.80V321.54H256.54V323.02H277.66V326.71H324.30V333.35H334.64" fill="none" stroke="#385878" stroke-width="1.35"/>
<line x1="284.70" y1="325.11" x2="284.70" y2="328.31" stroke="#385878" stroke-width="0.8"/>
<line x1="302.30" y1="325.11" x2="302.30" y2="328.31" stroke="#385878" stroke-width="0.8"/>
<line x1="311.10" y1="325.11" x2="311.10" y2="328.31" stroke="#385878" stroke-width="0.8"/>
<text x="263.20" y="318.35" font-size="7.95" text-anchor="start" font-weight="normal" font-style="normal" fill="#231f20" stroke="#231f20" stroke-width="0.15" ><tspan font-style="italic">IDH</tspan> wild-type n=57</text>
<text x="247.40" y="337.55" font-size="7.95" text-anchor="start" font-weight="normal" font-style="normal" fill="#231f20" stroke="#231f20" stroke-width="0.15" ><tspan font-style="italic">IDH</tspan> mutated n=23</text>
<line x1="391.50" y1="290.50" x2="391.50" y2="371.05" stroke="#2c2c2c" stroke-width="1.5"/>
<line x1="388.30" y1="293.50" x2="391.50" y2="293.50" stroke="#2c2c2c" stroke-width="1.0"/>
<text x="385.50" y="296.40" font-size="8.0" text-anchor="end" font-weight="normal" font-style="normal" fill="#231f20" stroke="#231f20" stroke-width="0.15" textLength="15.20" lengthAdjust="spacingAndGlyphs" >1.00</text>
<line x1="388.30" y1="311.95" x2="391.50" y2="311.95" stroke="#2c2c2c" stroke-width="1.0"/>
<text x="385.50" y="314.85" font-size="8.0" text-anchor="end" font-weight="normal" font-style="normal" fill="#231f20" stroke="#231f20" stroke-width="0.15" textLength="15.20" lengthAdjust="spacingAndGlyphs" >0.75</text>
<line x1="388.30" y1="330.40" x2="391.50" y2="330.40" stroke="#2c2c2c" stroke-width="1.0"/>
<text x="385.50" y="333.30" font-size="8.0" text-anchor="end" font-weight="normal" font-style="normal" fill="#231f20" stroke="#231f20" stroke-width="0.15" textLength="15.20" lengthAdjust="spacingAndGlyphs" >0.50</text>
<line x1="388.30" y1="348.85" x2="391.50" y2="348.85" stroke="#2c2c2c" stroke-width="1.0"/>
<text x="385.50" y="351.75" font-size="8.0" text-anchor="end" font-weight="normal" font-style="normal" fill="#231f20" stroke="#231f20" stroke-width="0.15" textLength="15.20" lengthAdjust="spacingAndGlyphs" >0.25</text>
<line x1="388.30" y1="367.30" x2="391.50" y2="367.30" stroke="#2c2c2c" stroke-width="1.0"/>
<text x="385.50" y="370.20" font-size="8.0" text-anchor="end" font-weight="normal" font-style="normal" fill="#231f20" stroke="#231f20" stroke-width="0.15" textLength="15.20" lengthAdjust="spacingAndGlyphs" >0.00</text>
<line x1="390.70" y1="370.30" x2="512.50" y2="370.30" stroke="#2c2c2c" stroke-width="1.5"/>
<line x1="396.80" y1="370.30" x2="396.80" y2="373.60" stroke="#2c2c2c" stroke-width="1.0"/>
<text x="396.80" y="382.50" font-size="8.0" text-anchor="middle" font-weight="normal" font-style="normal" fill="#231f20" stroke="#231f20" stroke-width="0.15" >0</text>
<line x1="418.80" y1="370.30" x2="418.80" y2="373.60" stroke="#2c2c2c" stroke-width="1.0"/>
<text x="418.80" y="382.50" font-size="8.0" text-anchor="middle" font-weight="normal" font-style="normal" fill="#231f20" stroke="#231f20" stroke-width="0.15" >1</text>
<line x1="440.80" y1="370.30" x2="440.80" y2="373.60" stroke="#2c2c2c" stroke-width="1.0"/>
<text x="440.80" y="382.50" font-size="8.0" text-anchor="middle" font-weight="normal" font-style="normal" fill="#231f20" stroke="#231f20" stroke-width="0.15" >2</text>
<line x1="462.80" y1="370.30" x2="462.80" y2="373.60" stroke="#2c2c2c" stroke-width="1.0"/>
<text x="462.80" y="382.50" font-size="8.0" text-anchor="middle" font-weight="normal" font-style="normal" fill="#231f20" stroke="#231f20" stroke-width="0.15" >3</text>
<line x1="484.80" y1="370.30" x2="484.80" y2="373.60" stroke="#2c2c2c" stroke-width="1.0"/>
<text x="484.80" y="382.50" font-size="8.0" text-anchor="middle" font-weight="normal" font-style="normal" fill="#231f20" stroke="#231f20" stroke-width="0.15" >4</text>
<line x1="506.80" y1="370.30" x2="506.80" y2="373.60" stroke="#2c2c2c" stroke-width="1.0"/>
<text x="506.80" y="382.50" font-size="8.0" text-anchor="middle" font-weight="normal" font-style="normal" fill="#231f20" stroke="#231f20" stroke-width="0.15" >5</text>
<text x="451.80" y="394.60" font-size="9.6" text-anchor="middle" font-weight="bold" font-style="normal" fill="#231f20" stroke="#231f20" stroke-width="0.1" textLength="71.10" lengthAdjust="spacingAndGlyphs" >Time from HSCT in years</text>
<text transform="translate(363.10,330.40) rotate(-90)" x="0" y="0" font-size="8.9" font-weight="bold" text-anchor="middle" fill="#231f20" stroke="#231f20" stroke-width="0.1" textLength="53.30" lengthAdjust="spacingAndGlyphs">Event-free survival</text>
<text x="451.80" y="279.00" font-size="7.7" text-anchor="middle" font-weight="normal" font-style="normal" fill="#231f20" stroke="#231f20" stroke-width="0.15" textLength="60.50" lengthAdjust="spacingAndGlyphs" >Event-free survival</text>
<text x="451.80" y="287.80" font-size="7.7" text-anchor="middle" font-weight="normal" font-style="normal" fill="#231f20" stroke="#231f20" stroke-width="0.15" textLength="75.40" lengthAdjust="spacingAndGlyphs" >ELN2017 adverse-risk</text>
<text x="506.60" y="299.00" font-size="7.7" text-anchor="end" font-weight="normal" font-style="normal" fill="#231f20" stroke="#231f20" stroke-width="0.15" textLength="21.96" lengthAdjust="spacingAndGlyphs" ><tspan font-style="italic">P</tspan>=.09</text>
<path d="M397.24,293.50H398.12V304.57H399.66V306.78H400.10V309.74H400.76V312.69H401.42V317.85H402.08V322.28H403.40V326.71H404.72V328.92H406.26V330.77H407.36V334.09H408.35V336.30H410.44V337.78H414.62V338.52H416.60V339.99H418.80V341.25H428.48V342.58H431.34V343.31H440.80V344.42H447.40V345.16H450.04V345.97H457.74V348.11H478.86V351.29H500.86V353.13H512.74" fill="none" stroke="#b0284a" stroke-width="1.35"/>
<line x1="423.20" y1="339.65" x2="423.20" y2="342.85" stroke="#b0284a" stroke-width="0.8"/>
<line x1="443.00" y1="342.82" x2="443.00" y2="346.02" stroke="#b0284a" stroke-width="0.8"/>
<line x1="462.80" y1="346.51" x2="462.80" y2="349.71" stroke="#b0284a" stroke-width="0.8"/>
<line x1="473.80" y1="346.51" x2="473.80" y2="349.71" stroke="#b0284a" stroke-width="0.8"/>
<line x1="495.14" y1="349.69" x2="495.14" y2="352.89" stroke="#b0284a" stroke-width="0.8"/>
<line x1="509.44" y1="351.53" x2="509.44" y2="354.73" stroke="#b0284a" stroke-width="0.8"/>
<path d="M397.24,293.50H398.56V298.30H400.10V306.78H404.72V328.19H429.14V332.61H472.26V336.89H512.74" fill="none" stroke="#385878" stroke-width="1.35"/>
<line x1="492.72" y1="335.29" x2="492.72" y2="338.49" stroke="#385878" stroke-width="0.8"/>
<line x1="500.86" y1="335.29" x2="500.86" y2="338.49" stroke="#385878" stroke-width="0.8"/>
<text x="433.40" y="329.85" font-size="7.95" text-anchor="start" font-weight="normal" font-style="normal" fill="#231f20" stroke="#231f20" stroke-width="0.15" ><tspan font-style="italic">IDH</tspan> mutated n=17</text>
<text x="418.00" y="360.25" font-size="7.95" text-anchor="start" font-weight="normal" font-style="normal" fill="#231f20" stroke="#231f20" stroke-width="0.15" ><tspan font-style="italic">IDH</tspan> wild-type n=68</text>
<line x1="36.00" y1="432.00" x2="36.00" y2="513.25" stroke="#2c2c2c" stroke-width="1.5"/>
<line x1="32.80" y1="435.00" x2="36.00" y2="435.00" stroke="#2c2c2c" stroke-width="1.0"/>
<text x="30.00" y="437.90" font-size="8.0" text-anchor="end" font-weight="normal" font-style="normal" fill="#231f20" stroke="#231f20" stroke-width="0.15" textLength="15.20" lengthAdjust="spacingAndGlyphs" >1.00</text>
<line x1="32.80" y1="453.57" x2="36.00" y2="453.57" stroke="#2c2c2c" stroke-width="1.0"/>
<text x="30.00" y="456.47" font-size="8.0" text-anchor="end" font-weight="normal" font-style="normal" fill="#231f20" stroke="#231f20" stroke-width="0.15" textLength="15.20" lengthAdjust="spacingAndGlyphs" >0.75</text>
<line x1="32.80" y1="472.15" x2="36.00" y2="472.15" stroke="#2c2c2c" stroke-width="1.0"/>
<text x="30.00" y="475.05" font-size="8.0" text-anchor="end" font-weight="normal" font-style="normal" fill="#231f20" stroke="#231f20" stroke-width="0.15" textLength="15.20" lengthAdjust="spacingAndGlyphs" >0.50</text>
<line x1="32.80" y1="490.73" x2="36.00" y2="490.73" stroke="#2c2c2c" stroke-width="1.0"/>
<text x="30.00" y="493.62" font-size="8.0" text-anchor="end" font-weight="normal" font-style="normal" fill="#231f20" stroke="#231f20" stroke-width="0.15" textLength="15.20" lengthAdjust="spacingAndGlyphs" >0.25</text>
<line x1="32.80" y1="509.30" x2="36.00" y2="509.30" stroke="#2c2c2c" stroke-width="1.0"/>
<text x="30.00" y="512.20" font-size="8.0" text-anchor="end" font-weight="normal" font-style="normal" fill="#231f20" stroke="#231f20" stroke-width="0.15" textLength="15.20" lengthAdjust="spacingAndGlyphs" >0.00</text>
<line x1="35.20" y1="512.50" x2="157.00" y2="512.50" stroke="#2c2c2c" stroke-width="1.5"/>
<line x1="41.30" y1="512.50" x2="41.30" y2="515.80" stroke="#2c2c2c" stroke-width="1.0"/>
<text x="41.30" y="524.50" font-size="8.0" text-anchor="middle" font-weight="normal" font-style="normal" fill="#231f20" stroke="#231f20" stroke-width="0.15" >0</text>
<line x1="63.30" y1="512.50" x2="63.30" y2="515.80" stroke="#2c2c2c" stroke-width="1.0"/>
<text x="63.30" y="524.50" font-size="8.0" text-anchor="middle" font-weight="normal" font-style="normal" fill="#231f20" stroke="#231f20" stroke-width="0.15" >1</text>
<line x1="85.30" y1="512.50" x2="85.30" y2="515.80" stroke="#2c2c2c" stroke-width="1.0"/>
<text x="85.30" y="524.50" font-size="8.0" text-anchor="middle" font-weight="normal" font-style="normal" fill="#231f20" stroke="#231f20" stroke-width="0.15" >2</text>
<line x1="107.30" y1="512.50" x2="107.30" y2="515.80" stroke="#2c2c2c" stroke-width="1.0"/>
<text x="107.30" y="524.50" font-size="8.0" text-anchor="middle" font-weight="normal" font-style="normal" fill="#231f20" stroke="#231f20" stroke-width="0.15" >3</text>
<line x1="129.30" y1="512.50" x2="129.30" y2="515.80" stroke="#2c2c2c" stroke-width="1.0"/>
<text x="129.30" y="524.50" font-size="8.0" text-anchor="middle" font-weight="normal" font-style="normal" fill="#231f20" stroke="#231f20" stroke-width="0.15" >4</text>
<line x1="151.30" y1="512.50" x2="151.30" y2="515.80" stroke="#2c2c2c" stroke-width="1.0"/>
<text x="151.30" y="524.50" font-size="8.0" text-anchor="middle" font-weight="normal" font-style="normal" fill="#231f20" stroke="#231f20" stroke-width="0.15" >5</text>
<text x="96.30" y="537.10" font-size="9.6" text-anchor="middle" font-weight="bold" font-style="normal" fill="#231f20" stroke="#231f20" stroke-width="0.1" textLength="71.10" lengthAdjust="spacingAndGlyphs" >Time from HSCT in years</text>
<text transform="translate(7.60,472.15) rotate(-90)" x="0" y="0" font-size="8.9" font-weight="bold" text-anchor="middle" fill="#231f20" stroke="#231f20" stroke-width="0.1" textLength="43.10" lengthAdjust="spacingAndGlyphs">Overall survival</text>
<text x="96.30" y="420.30" font-size="7.7" text-anchor="middle" font-weight="normal" font-style="normal" fill="#231f20" stroke="#231f20" stroke-width="0.15" textLength="50.00" lengthAdjust="spacingAndGlyphs" >Overall survival</text>
<text x="96.30" y="429.50" font-size="7.7" text-anchor="middle" font-weight="normal" font-style="normal" fill="#231f20" stroke="#231f20" stroke-width="0.15" textLength="80.40" lengthAdjust="spacingAndGlyphs" >ELN2017 favorable-risk</text>
<text x="151.10" y="440.00" font-size="7.7" text-anchor="end" font-weight="normal" font-style="normal" fill="#231f20" stroke="#231f20" stroke-width="0.15" textLength="17.33" lengthAdjust="spacingAndGlyphs" ><tspan font-style="italic">P</tspan>=.4</text>
<path d="M41.30,435.00H43.50V436.78H44.60V438.57H45.70V440.20H47.90V443.92H49.66V445.62H51.20V447.63H52.74V449.12H54.50V450.60H56.26V452.83H57.80V455.06H60.00V457.29H62.20V458.78H65.50V459.89H69.90V460.63H75.40V461.75H100.26V465.46H101.80V466.21H157.24" fill="none" stroke="#b0284a" stroke-width="1.35"/>
<line x1="67.70" y1="458.29" x2="67.70" y2="461.49" stroke="#b0284a" stroke-width="0.8"/>
<line x1="74.30" y1="459.03" x2="74.30" y2="462.23" stroke="#b0284a" stroke-width="0.8"/>
<line x1="78.70" y1="460.15" x2="78.70" y2="463.35" stroke="#b0284a" stroke-width="0.8"/>
<line x1="83.10" y1="460.15" x2="83.10" y2="463.35" stroke="#b0284a" stroke-width="0.8"/>
<line x1="87.50" y1="460.15" x2="87.50" y2="463.35" stroke="#b0284a" stroke-width="0.8"/>
<line x1="91.90" y1="460.15" x2="91.90" y2="463.35" stroke="#b0284a" stroke-width="0.8"/>
<line x1="120.50" y1="464.61" x2="120.50" y2="467.81" stroke="#b0284a" stroke-width="0.8"/>
<line x1="127.10" y1="464.61" x2="127.10" y2="467.81" stroke="#b0284a" stroke-width="0.8"/>
<line x1="150.20" y1="464.61" x2="150.20" y2="467.81" stroke="#b0284a" stroke-width="0.8"/>
<line x1="155.70" y1="464.61" x2="155.70" y2="467.81" stroke="#b0284a" stroke-width="0.8"/>
<path d="M41.30,435.00H46.14V440.28H49.44V445.62H53.40V450.90H67.04V457.29H75.18V461.75H94.98V467.91H97.62V475.12H131.50V483.30H157.24" fill="none" stroke="#385878" stroke-width="1.35"/>
<line x1="127.10" y1="473.52" x2="127.10" y2="476.72" stroke="#385878" stroke-width="0.8"/>
<text x="88.20" y="458.35" font-size="7.95" text-anchor="start" font-weight="normal" font-style="normal" fill="#231f20" stroke="#231f20" stroke-width="0.15" ><tspan font-style="italic">IDH</tspan> wild-type n=42</text>
<text x="65.00" y="484.65" font-size="7.95" text-anchor="start" font-weight="normal" font-style="normal" fill="#231f20" stroke="#231f20" stroke-width="0.15" ><tspan font-style="italic">IDH</tspan> mutated n=14</text>
<line x1="213.40" y1="432.00" x2="213.40" y2="513.25" stroke="#2c2c2c" stroke-width="1.5"/>
<line x1="210.20" y1="435.00" x2="213.40" y2="435.00" stroke="#2c2c2c" stroke-width="1.0"/>
<text x="207.40" y="437.90" font-size="8.0" text-anchor="end" font-weight="normal" font-style="normal" fill="#231f20" stroke="#231f20" stroke-width="0.15" textLength="15.20" lengthAdjust="spacingAndGlyphs" >1.00</text>
<line x1="210.20" y1="453.57" x2="213.40" y2="453.57" stroke="#2c2c2c" stroke-width="1.0"/>
<text x="207.40" y="456.47" font-size="8.0" text-anchor="end" font-weight="normal" font-style="normal" fill="#231f20" stroke="#231f20" stroke-width="0.15" textLength="15.20" lengthAdjust="spacingAndGlyphs" >0.75</text>
<line x1="210.20" y1="472.15" x2="213.40" y2="472.15" stroke="#2c2c2c" stroke-width="1.0"/>
<text x="207.40" y="475.05" font-size="8.0" text-anchor="end" font-weight="normal" font-style="normal" fill="#231f20" stroke="#231f20" stroke-width="0.15" textLength="15.20" lengthAdjust="spacingAndGlyphs" >0.50</text>
<line x1="210.20" y1="490.73" x2="213.40" y2="490.73" stroke="#2c2c2c" stroke-width="1.0"/>
<text x="207.40" y="493.62" font-size="8.0" text-anchor="end" font-weight="normal" font-style="normal" fill="#231f20" stroke="#231f20" stroke-width="0.15" textLength="15.20" lengthAdjust="spacingAndGlyphs" >0.25</text>
<line x1="210.20" y1="509.30" x2="213.40" y2="509.30" stroke="#2c2c2c" stroke-width="1.0"/>
<text x="207.40" y="512.20" font-size="8.0" text-anchor="end" font-weight="normal" font-style="normal" fill="#231f20" stroke="#231f20" stroke-width="0.15" textLength="15.20" lengthAdjust="spacingAndGlyphs" >0.00</text>
<line x1="212.60" y1="512.50" x2="334.40" y2="512.50" stroke="#2c2c2c" stroke-width="1.5"/>
<line x1="218.70" y1="512.50" x2="218.70" y2="515.80" stroke="#2c2c2c" stroke-width="1.0"/>
<text x="218.70" y="524.50" font-size="8.0" text-anchor="middle" font-weight="normal" font-style="normal" fill="#231f20" stroke="#231f20" stroke-width="0.15" >0</text>
<line x1="240.70" y1="512.50" x2="240.70" y2="515.80" stroke="#2c2c2c" stroke-width="1.0"/>
<text x="240.70" y="524.50" font-size="8.0" text-anchor="middle" font-weight="normal" font-style="normal" fill="#231f20" stroke="#231f20" stroke-width="0.15" >1</text>
<line x1="262.70" y1="512.50" x2="262.70" y2="515.80" stroke="#2c2c2c" stroke-width="1.0"/>
<text x="262.70" y="524.50" font-size="8.0" text-anchor="middle" font-weight="normal" font-style="normal" fill="#231f20" stroke="#231f20" stroke-width="0.15" >2</text>
<line x1="284.70" y1="512.50" x2="284.70" y2="515.80" stroke="#2c2c2c" stroke-width="1.0"/>
<text x="284.70" y="524.50" font-size="8.0" text-anchor="middle" font-weight="normal" font-style="normal" fill="#231f20" stroke="#231f20" stroke-width="0.15" >3</text>
<line x1="306.70" y1="512.50" x2="306.70" y2="515.80" stroke="#2c2c2c" stroke-width="1.0"/>
<text x="306.70" y="524.50" font-size="8.0" text-anchor="middle" font-weight="normal" font-style="normal" fill="#231f20" stroke="#231f20" stroke-width="0.15" >4</text>
<line x1="328.70" y1="512.50" x2="328.70" y2="515.80" stroke="#2c2c2c" stroke-width="1.0"/>
<text x="328.70" y="524.50" font-size="8.0" text-anchor="middle" font-weight="normal" font-style="normal" fill="#231f20" stroke="#231f20" stroke-width="0.15" >5</text>
<text x="273.70" y="537.10" font-size="9.6" text-anchor="middle" font-weight="bold" font-style="normal" fill="#231f20" stroke="#231f20" stroke-width="0.1" textLength="71.10" lengthAdjust="spacingAndGlyphs" >Time from HSCT in years</text>
<text transform="translate(185.00,472.15) rotate(-90)" x="0" y="0" font-size="8.9" font-weight="bold" text-anchor="middle" fill="#231f20" stroke="#231f20" stroke-width="0.1" textLength="43.10" lengthAdjust="spacingAndGlyphs">Overall survival</text>
<text x="273.70" y="420.30" font-size="7.7" text-anchor="middle" font-weight="normal" font-style="normal" fill="#231f20" stroke="#231f20" stroke-width="0.15" textLength="50.00" lengthAdjust="spacingAndGlyphs" >Overall survival</text>
<text x="273.70" y="429.50" font-size="7.7" text-anchor="middle" font-weight="normal" font-style="normal" fill="#231f20" stroke="#231f20" stroke-width="0.15" textLength="89.50" lengthAdjust="spacingAndGlyphs" >ELN2017 intermediate-risk</text>
<text x="328.50" y="440.00" font-size="7.7" text-anchor="end" font-weight="normal" font-style="normal" fill="#231f20" stroke="#231f20" stroke-width="0.15" textLength="17.33" lengthAdjust="spacingAndGlyphs" ><tspan font-style="italic">P</tspan>=.8</text>
<path d="M219.14,436.11H222.44V437.97H223.10V440.94H225.30V447.63H228.60V449.86H231.90V451.35H236.30V453.20H240.70V458.03H249.50V459.52H256.10V460.63H262.70V461.38H334.64" fill="none" stroke="#b0284a" stroke-width="1.35"/>
<line x1="234.10" y1="449.75" x2="234.10" y2="452.95" stroke="#b0284a" stroke-width="0.8"/>
<line x1="251.70" y1="457.92" x2="251.70" y2="461.12" stroke="#b0284a" stroke-width="0.8"/>
<line x1="267.10" y1="459.78" x2="267.10" y2="462.98" stroke="#b0284a" stroke-width="0.8"/>
<line x1="273.70" y1="459.78" x2="273.70" y2="462.98" stroke="#b0284a" stroke-width="0.8"/>
<line x1="284.70" y1="459.78" x2="284.70" y2="462.98" stroke="#b0284a" stroke-width="0.8"/>
<line x1="293.50" y1="459.78" x2="293.50" y2="462.98" stroke="#b0284a" stroke-width="0.8"/>
<line x1="311.10" y1="459.78" x2="311.10" y2="462.98" stroke="#b0284a" stroke-width="0.8"/>
<line x1="317.70" y1="459.78" x2="317.70" y2="462.98" stroke="#b0284a" stroke-width="0.8"/>
<line x1="333.10" y1="459.78" x2="333.10" y2="462.98" stroke="#b0284a" stroke-width="0.8"/>
<path d="M219.14,435.00H223.76V438.72H227.28V449.12H230.58V452.83H237.18V455.06H241.36V457.29H262.26V461.00H334.64" fill="none" stroke="#385878" stroke-width="1.35"/>
<line x1="231.90" y1="451.23" x2="231.90" y2="454.43" stroke="#385878" stroke-width="0.8"/>
<line x1="269.30" y1="459.40" x2="269.30" y2="462.61" stroke="#385878" stroke-width="0.8"/>
<line x1="278.10" y1="459.40" x2="278.10" y2="462.61" stroke="#385878" stroke-width="0.8"/>
<line x1="286.90" y1="459.40" x2="286.90" y2="462.61" stroke="#385878" stroke-width="0.8"/>
<line x1="297.90" y1="459.40" x2="297.90" y2="462.61" stroke="#385878" stroke-width="0.8"/>
<line x1="308.90" y1="459.40" x2="308.90" y2="462.61" stroke="#385878" stroke-width="0.8"/>
<text x="231.20" y="446.65" font-size="7.95" text-anchor="start" font-weight="normal" font-style="normal" fill="#231f20" stroke="#231f20" stroke-width="0.15" ><tspan font-style="italic">IDH</tspan> mutated n=23</text>
<text x="264.20" y="457.35" font-size="7.95" text-anchor="start" font-weight="normal" font-style="normal" fill="#231f20" stroke="#231f20" stroke-width="0.15" ><tspan font-style="italic">IDH</tspan> wild-type n=57</text>
<line x1="391.50" y1="432.00" x2="391.50" y2="513.25" stroke="#2c2c2c" stroke-width="1.5"/>
<line x1="388.30" y1="435.00" x2="391.50" y2="435.00" stroke="#2c2c2c" stroke-width="1.0"/>
<text x="385.50" y="437.90" font-size="8.0" text-anchor="end" font-weight="normal" font-style="normal" fill="#231f20" stroke="#231f20" stroke-width="0.15" textLength="15.20" lengthAdjust="spacingAndGlyphs" >1.00</text>
<line x1="388.30" y1="453.57" x2="391.50" y2="453.57" stroke="#2c2c2c" stroke-width="1.0"/>
<text x="385.50" y="456.47" font-size="8.0" text-anchor="end" font-weight="normal" font-style="normal" fill="#231f20" stroke="#231f20" stroke-width="0.15" textLength="15.20" lengthAdjust="spacingAndGlyphs" >0.75</text>
<line x1="388.30" y1="472.15" x2="391.50" y2="472.15" stroke="#2c2c2c" stroke-width="1.0"/>
<text x="385.50" y="475.05" font-size="8.0" text-anchor="end" font-weight="normal" font-style="normal" fill="#231f20" stroke="#231f20" stroke-width="0.15" textLength="15.20" lengthAdjust="spacingAndGlyphs" >0.50</text>
<line x1="388.30" y1="490.73" x2="391.50" y2="490.73" stroke="#2c2c2c" stroke-width="1.0"/>
<text x="385.50" y="493.62" font-size="8.0" text-anchor="end" font-weight="normal" font-style="normal" fill="#231f20" stroke="#231f20" stroke-width="0.15" textLength="15.20" lengthAdjust="spacingAndGlyphs" >0.25</text>
<line x1="388.30" y1="509.30" x2="391.50" y2="509.30" stroke="#2c2c2c" stroke-width="1.0"/>
<text x="385.50" y="512.20" font-size="8.0" text-anchor="end" font-weight="normal" font-style="normal" fill="#231f20" stroke="#231f20" stroke-width="0.15" textLength="15.20" lengthAdjust="spacingAndGlyphs" >0.00</text>
<line x1="390.70" y1="512.50" x2="512.50" y2="512.50" stroke="#2c2c2c" stroke-width="1.5"/>
<line x1="396.80" y1="512.50" x2="396.80" y2="515.80" stroke="#2c2c2c" stroke-width="1.0"/>
<text x="396.80" y="524.50" font-size="8.0" text-anchor="middle" font-weight="normal" font-style="normal" fill="#231f20" stroke="#231f20" stroke-width="0.15" >0</text>
<line x1="418.80" y1="512.50" x2="418.80" y2="515.80" stroke="#2c2c2c" stroke-width="1.0"/>
<text x="418.80" y="524.50" font-size="8.0" text-anchor="middle" font-weight="normal" font-style="normal" fill="#231f20" stroke="#231f20" stroke-width="0.15" >1</text>
<line x1="440.80" y1="512.50" x2="440.80" y2="515.80" stroke="#2c2c2c" stroke-width="1.0"/>
<text x="440.80" y="524.50" font-size="8.0" text-anchor="middle" font-weight="normal" font-style="normal" fill="#231f20" stroke="#231f20" stroke-width="0.15" >2</text>
<line x1="462.80" y1="512.50" x2="462.80" y2="515.80" stroke="#2c2c2c" stroke-width="1.0"/>
<text x="462.80" y="524.50" font-size="8.0" text-anchor="middle" font-weight="normal" font-style="normal" fill="#231f20" stroke="#231f20" stroke-width="0.15" >3</text>
<line x1="484.80" y1="512.50" x2="484.80" y2="515.80" stroke="#2c2c2c" stroke-width="1.0"/>
<text x="484.80" y="524.50" font-size="8.0" text-anchor="middle" font-weight="normal" font-style="normal" fill="#231f20" stroke="#231f20" stroke-width="0.15" >4</text>
<line x1="506.80" y1="512.50" x2="506.80" y2="515.80" stroke="#2c2c2c" stroke-width="1.0"/>
<text x="506.80" y="524.50" font-size="8.0" text-anchor="middle" font-weight="normal" font-style="normal" fill="#231f20" stroke="#231f20" stroke-width="0.15" >5</text>
<text x="451.80" y="537.10" font-size="9.6" text-anchor="middle" font-weight="bold" font-style="normal" fill="#231f20" stroke="#231f20" stroke-width="0.1" textLength="71.10" lengthAdjust="spacingAndGlyphs" >Time from HSCT in years</text>
<text transform="translate(363.10,472.15) rotate(-90)" x="0" y="0" font-size="8.9" font-weight="bold" text-anchor="middle" fill="#231f20" stroke="#231f20" stroke-width="0.1" textLength="43.10" lengthAdjust="spacingAndGlyphs">Overall survival</text>
<text x="451.80" y="420.30" font-size="7.7" text-anchor="middle" font-weight="normal" font-style="normal" fill="#231f20" stroke="#231f20" stroke-width="0.15" textLength="50.00" lengthAdjust="spacingAndGlyphs" >Overall survival</text>
<text x="451.80" y="429.50" font-size="7.7" text-anchor="middle" font-weight="normal" font-style="normal" fill="#231f20" stroke="#231f20" stroke-width="0.15" textLength="75.40" lengthAdjust="spacingAndGlyphs" >ELN2017 adverse-risk</text>
<text x="506.60" y="440.00" font-size="7.7" text-anchor="end" font-weight="normal" font-style="normal" fill="#231f20" stroke="#231f20" stroke-width="0.15" textLength="17.33" lengthAdjust="spacingAndGlyphs" ><tspan font-style="italic">P</tspan>=.3</text>
<path d="M397.24,435.00H399.00V440.20H400.98V442.80H401.86V446.89H402.74V450.90H404.72V455.06H406.70V456.92H407.80V458.78H408.68V461.00H410.88V465.02H414.18V466.95H417.04V468.44H419.90V471.70H437.28V474.38H444.54V475.87H451.36V477.50H454.00V478.84H474.46V480.62H485.90V482.18H500.86V484.78H512.74" fill="none" stroke="#b0284a" stroke-width="1.35"/>
<line x1="412.20" y1="463.42" x2="412.20" y2="466.62" stroke="#b0284a" stroke-width="0.8"/>
<line x1="425.40" y1="470.10" x2="425.40" y2="473.30" stroke="#b0284a" stroke-width="0.8"/>
<line x1="432.00" y1="470.10" x2="432.00" y2="473.30" stroke="#b0284a" stroke-width="0.8"/>
<line x1="458.40" y1="477.24" x2="458.40" y2="480.44" stroke="#b0284a" stroke-width="0.8"/>
<line x1="465.88" y1="477.24" x2="465.88" y2="480.44" stroke="#b0284a" stroke-width="0.8"/>
<line x1="469.40" y1="477.24" x2="469.40" y2="480.44" stroke="#b0284a" stroke-width="0.8"/>
<line x1="496.24" y1="480.58" x2="496.24" y2="483.78" stroke="#b0284a" stroke-width="0.8"/>
<line x1="510.10" y1="483.18" x2="510.10" y2="486.38" stroke="#b0284a" stroke-width="0.8"/>
<path d="M397.24,435.00H400.10V440.94H402.74V447.63H404.06V451.35H404.72V456.92H410.22V462.71H429.80V467.39H503.28V474.08H512.74" fill="none" stroke="#385878" stroke-width="1.35"/>
<line x1="429.80" y1="465.79" x2="429.80" y2="468.99" stroke="#385878" stroke-width="0.8"/>
<line x1="492.50" y1="465.79" x2="492.50" y2="468.99" stroke="#385878" stroke-width="0.8"/>
<line x1="501.30" y1="465.79" x2="501.30" y2="468.99" stroke="#385878" stroke-width="0.8"/>
<text x="432.40" y="464.35" font-size="7.95" text-anchor="start" font-weight="normal" font-style="normal" fill="#231f20" stroke="#231f20" stroke-width="0.15" ><tspan font-style="italic">IDH</tspan> mutated n=17</text>
<text x="427.50" y="491.15" font-size="7.95" text-anchor="start" font-weight="normal" font-style="normal" fill="#231f20" stroke="#231f20" stroke-width="0.15" ><tspan font-style="italic">IDH</tspan> wild-type n=68</text>
</svg>
</body></html>
